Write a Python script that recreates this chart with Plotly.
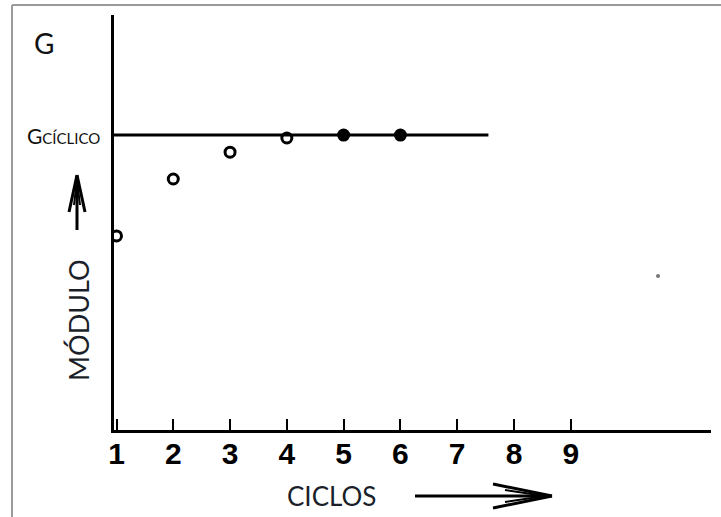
import plotly.graph_objects as go

# ---- data ----
ciclos = [1, 2, 3, 4, 5, 6]
modulo = [0.658, 0.851, 0.942, 0.990, 1.0, 1.0]
abierto = [True, True, True, True, False, False]
g_ciclico = 1.0
linea_x = [0.956, 7.55]
tick_vals = [1, 2, 3, 4, 5, 6, 7, 8, 9]
tick_text = ["1", "2", "3", "4", "5", "6", "7", "8", "9"]

W, H = 721, 517
ML, MR, MT, MB = 114, 10, 15, 87
PW, PH = W - ML - MR, H - MT - MB


def px(xp):
    return (xp - ML) / PW


def py(yp):
    return (H - MB - yp) / PH


fig = go.Figure()

# horizontal G cyclic line
fig.add_trace(go.Scatter(x=linea_x, y=[g_ciclico, g_ciclico], mode="lines",
                         line=dict(color="black", width=3), hoverinfo="skip"))

ox = [c for c, a in zip(ciclos, abierto) if a]
oy = [m for m, a in zip(modulo, abierto) if a]
fx = [c for c, a in zip(ciclos, abierto) if not a]
fy = [m for m, a in zip(modulo, abierto) if not a]

fig.add_trace(go.Scatter(x=ox, y=oy, mode="markers",
                         marker=dict(symbol="circle-open", size=10, color="black",
                                     line=dict(width=3, color="black"))))
fig.add_trace(go.Scatter(x=fx, y=fy, mode="markers",
                         marker=dict(symbol="circle", size=13, color="black")))

fig.update_layout(
    width=W, height=H, autosize=False,
    margin=dict(l=ML, r=MR, t=MT, b=MB, pad=0),
    paper_bgcolor="white", plot_bgcolor="white",
    showlegend=False,
    xaxis=dict(range=[0.956, 11.47], showgrid=False, zeroline=False,
               showline=True, linecolor="black", linewidth=3,
               ticks="inside", ticklen=11, tickwidth=2, tickcolor="black",
               tickvals=tick_vals, ticktext=tick_text,
               tickfont=dict(family="Liberation Sans", size=30, color="black",
                             weight="bold"),
               ticklabelstandoff=-5),
    yaxis=dict(range=[0, 1.407], showgrid=False, zeroline=False,
               showline=True, linecolor="black", linewidth=3,
               showticklabels=False, ticks=""),
)

shapes = []
# outer gray frame (top and left visible)
shapes.append(dict(type="line", xref="paper", yref="paper",
                   x0=px(12), y0=py(5), x1=px(721), y1=py(5),
                   line=dict(color="#9a9a9a", width=2)))
shapes.append(dict(type="line", xref="paper", yref="paper",
                   x0=px(12), y0=py(5), x1=px(12), y1=py(517),
                   line=dict(color="#9a9a9a", width=2)))


def seg(x0, y0, x1, y1, w=3):
    shapes.append(dict(type="line", xref="paper", yref="paper",
                       x0=px(x0), y0=py(y0), x1=px(x1), y1=py(y1),
                       line=dict(color="black", width=w)))


# up arrow (MÓDULO)
seg(77, 230, 77, 176)
seg(77, 175, 69, 212)
seg(77, 175, 85, 212)
seg(77, 180, 74, 205, 2)
seg(77, 180, 80, 205, 2)
# right arrow (CICLOS)
seg(415, 496, 550, 496)
seg(552, 496, 493, 484)
seg(552, 496, 493, 508)
seg(545, 496, 505, 490, 2)
seg(545, 496, 505, 502, 2)
# small speck
shapes.append(dict(type="circle", xref="paper", yref="paper",
                   x0=px(656), y0=py(274), x1=px(660), y1=py(278),
                   fillcolor="#777", line=dict(width=0)))
fig.update_layout(shapes=shapes)

font = "Lato"
txtc = "#1b1f2a"
annos = [
    dict(text="G", x=px(44), y=py(43), font=dict(family=font, size=28, color="#111")),
    dict(text="G<span style='font-size:15px'>CÍCLICO</span>", x=px(102), y=py(135),
         xanchor="right", font=dict(family=font, size=21, color="#111")),
    dict(text="CICLOS", x=px(331), y=py(496), font=dict(family=font, size=26, color=txtc)),
    dict(text="MÓDULO", x=px(78), y=py(320), textangle=-90,
         font=dict(family=font, size=27, color=txtc)),
]
for a in annos:
    a.setdefault("xanchor", "center")
    a.update(xref="paper", yref="paper", showarrow=False, yanchor="middle")
fig.update_layout(annotations=annos)

fig.write_html("out.html")
